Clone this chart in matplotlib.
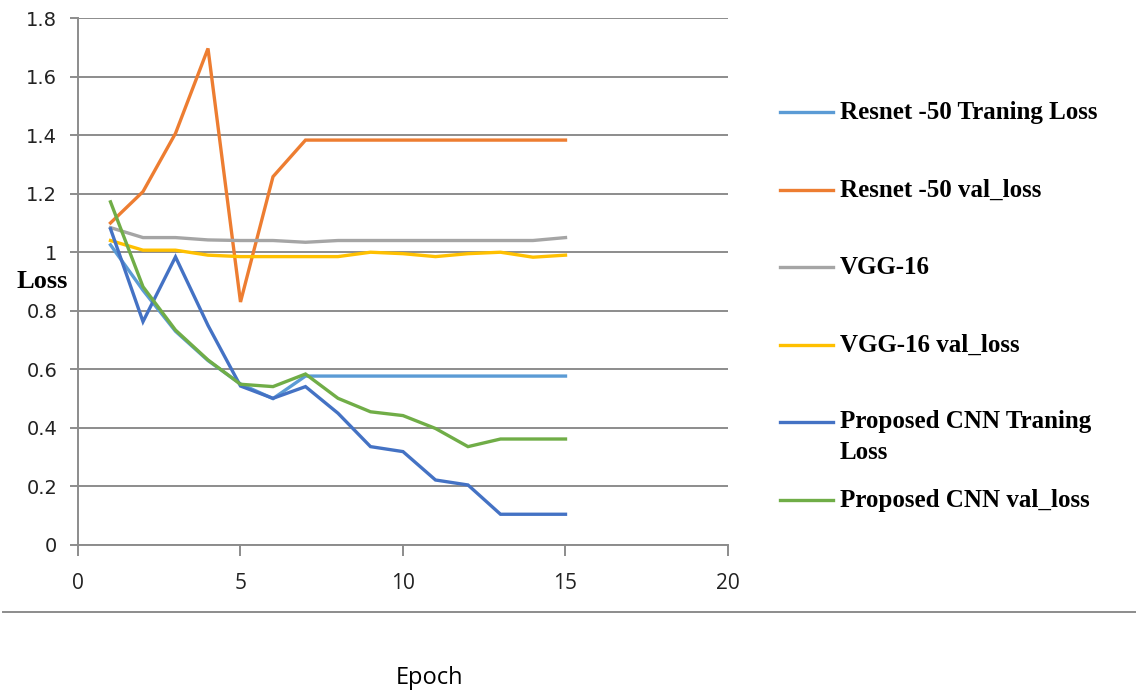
import matplotlib
matplotlib.use("Agg")
import matplotlib.pyplot as plt
from matplotlib.lines import Line2D

epochs = list(range(1, 16))

resnet_train = [1.025, 0.87, 0.73, 0.63, 0.55, 0.50, 0.577, 0.577, 0.577, 0.577,
                0.577, 0.577, 0.577, 0.577, 0.577]
resnet_val = [1.10, 1.207, 1.406, 1.696, 0.83, 1.258, 1.383, 1.383, 1.383, 1.383,
              1.383, 1.383, 1.383, 1.383, 1.383]
vgg_train = [1.084, 1.05, 1.05, 1.042, 1.04, 1.04, 1.034, 1.04, 1.04, 1.04,
             1.04, 1.04, 1.04, 1.04, 1.05]
vgg_val = [1.04, 1.007, 1.007, 0.99, 0.985, 0.985, 0.985, 0.985, 1.0, 0.995,
           0.985, 0.995, 1.0, 0.983, 0.99]
cnn_train = [1.08, 0.763, 0.984, 0.75, 0.543, 0.501, 0.541, 0.45, 0.336, 0.319,
             0.222, 0.205, 0.105, 0.105, 0.105]
cnn_val = [1.172, 0.882, 0.734, 0.632, 0.549, 0.541, 0.584, 0.501, 0.455, 0.442,
           0.398, 0.336, 0.362, 0.362, 0.362]

series_labels = ["Resnet -50 Traning Loss", "Resnet -50 val_loss", "VGG-16",
                 "VGG-16 val_loss", "Proposed CNN Traning\nLoss",
                 "Proposed CNN val_loss"]
series_colors = ["#5B9BD5", "#ED7D31", "#A5A5A5", "#FFC000", "#4472C4", "#70AD47"]
series_values = [resnet_train, resnet_val, vgg_train, vgg_val, cnn_train, cnn_val]

x_ticks = [0, 5, 10, 15, 20]
y_ticks = [0, 0.2, 0.4, 0.6, 0.8, 1.0, 1.2, 1.4, 1.6, 1.8]
y_tick_labels = ["0", "0.2", "0.4", "0.6", "0.8", "1", "1.2", "1.4", "1.6", "1.8"]

W, H = 1136, 695
fig = plt.figure(figsize=(W / 100, H / 100), dpi=100)
ax = fig.add_axes([78 / W, 1 - 545 / H, 650 / W, 527 / H])

grid_color = "#8C8C8C"
for yv in y_ticks:
    ax.axhline(yv, color=grid_color, lw=1.4, zorder=1)

for vals, col in zip(series_values, series_colors):
    ax.plot(epochs, vals, color=col, lw=2.4, zorder=3, solid_joinstyle="miter")

ax.set_xlim(0, 20)
ax.set_ylim(0, 1.8)
ax.set_xticks(x_ticks)
ax.set_yticks(y_ticks)
ax.set_yticklabels(y_tick_labels, fontsize=14, fontfamily="DejaVu Sans", color="#222222")
ax.set_xticklabels([str(v) for v in x_ticks], fontsize=15, fontfamily="Open Sans",
                   color="#222222")
for s in ["top", "right"]:
    ax.spines[s].set_visible(False)
for s in ["left", "bottom"]:
    ax.spines[s].set_color(grid_color)
    ax.spines[s].set_linewidth(1.4)
ax.tick_params(axis="y", length=6, width=1.4, color=grid_color, pad=9)
ax.tick_params(axis="x", length=8, width=1.4, color=grid_color, pad=12)

# axis titles
fig.text(42 / W, 1 - 281 / H, "Loss", fontsize=19, fontweight="bold",
         fontfamily="Liberation Serif", ha="center", va="center")
fig.text(429 / W, 1 - 678 / H, "Epoch", fontsize=17, fontfamily="Open Sans",
         ha="center", va="center", color="#000000")

# separator line below the tick labels
fig.add_artist(Line2D([3 / W, 1.0], [1 - 612 / H, 1 - 612 / H],
                      color=grid_color, lw=1.4, transform=fig.transFigure))

# legend entries
legend_y = [112, 190, 267, 345, 422, 500]
for lab, col, ly in zip(series_labels, series_colors, legend_y):
    yf = 1 - ly / H
    fig.add_artist(Line2D([780 / W, 833 / W], [yf, yf], color=col, lw=2.4,
                          transform=fig.transFigure))
    if "\n" in lab:
        fig.text(840 / W, yf + 12 / H, lab, fontsize=18, fontweight="bold",
                 fontfamily="Liberation Serif", ha="left", va="top",
                 linespacing=1.45)
    else:
        fig.text(840 / W, yf, lab, fontsize=18, fontweight="bold",
                 fontfamily="Liberation Serif", ha="left", va="center")

fig.savefig("out.png", dpi=100)
